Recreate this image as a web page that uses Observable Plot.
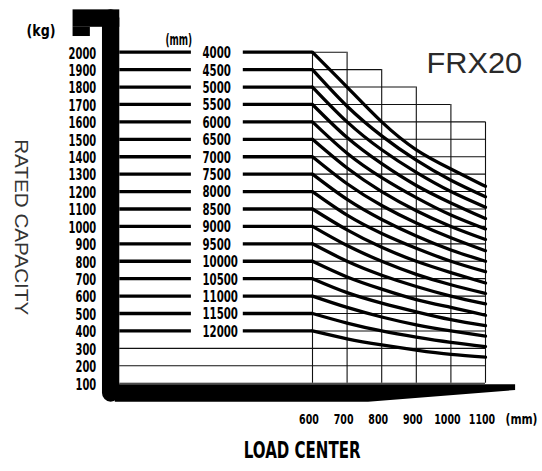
<!DOCTYPE html>
<html>
<head>
<meta charset="utf-8">
<script src="https://cdn.jsdelivr.net/npm/d3@7"></script>
<script src="https://cdn.jsdelivr.net/npm/@observablehq/plot@0.6"></script>
<style>
  html, body { margin: 0; padding: 0; background: #ffffff; }
  #chart { width: 542px; height: 471px; }
</style>
</head>
<body>
<div id="chart"></div>
<script>
// ---------- data ----------
const capacities = [2000, 1900, 1800, 1700, 1600, 1500, 1400, 1300, 1200, 1100, 1000, 900, 800, 700, 600, 500, 400];
const liftHeights = ["4000", "4500", "5000", "5500", "6000", "6500", "7000", "7500", "8000", "8500", "9000", "9500", "10000", "10500", "11000", "11500", "12000"];
const loadCenters = [600, 700, 800, 900, 1000, 1100];
const gridTops = [2000, 2000, 1900, 1800, 1700, 1600];
const yTicks = [2000, 1900, 1800, 1700, 1600, 1500, 1400, 1300, 1200, 1100, 1000, 900, 800, 700, 600, 500, 400, 300, 200, 100];
// capacity read at each load center (600..1100 mm), one row per lift height
const deratedValues = [
  [2000, 1800, 1600, 1440, 1330, 1230],
  [1900, 1690, 1520, 1380, 1265, 1170],
  [1800, 1600, 1440, 1310, 1200, 1110],
  [1700, 1510, 1360, 1235, 1135, 1045],
  [1600, 1420, 1280, 1165, 1065, 985],
  [1500, 1335, 1200, 1090, 1000, 925],
  [1400, 1245, 1120, 1020, 935, 860],
  [1300, 1155, 1040, 945, 865, 800],
  [1200, 1065, 960, 875, 800, 740],
  [1100, 980, 880, 800, 735, 675],
  [1000, 890, 800, 725, 665, 615],
  [900, 800, 720, 655, 600, 555],
  [800, 710, 640, 580, 535, 490],
  [700, 620, 560, 510, 465, 430],
  [600, 535, 480, 435, 400, 370],
  [500, 445, 400, 365, 335, 310],
  [400, 355, 320, 290, 265, 250]
];

// ---------- derived tables ----------
const curvePoints = [];
deratedValues.forEach((row, i) => row.forEach((v, j) => curvePoints.push({cap: capacities[i], x: loadCenters[j], kg: v})));
const rightEnd = kg => d3.max(loadCenters.filter((x, i) => gridTops[i] >= kg));
const hGrid = yTicks.map(kg => ({kg, x1: kg >= 400 ? 600 : 43, x2: rightEnd(kg)}));
const vGrid = loadCenters.map((x, i) => ({x, top: gridTops[i]}));

// frame (axis bars), in data units
const hook = [{x1: -92, x2: 43, y1: 2143, y2: 2243}, {x1: -92, x2: -42, y1: 2090, y2: 2143}];
const bar = [{x1: -7, x2: 43, y1: -9, y2: 2243}];
const base = [{x: 30, y1: -9, y2: 91}, {x: 762, y1: -9, y2: 91}, {x: 1187, y1: 58, y2: 91}];

const BOLD = "'Liberation Sans Narrow', 'DejaVu Sans Condensed', 'Arial Narrow', sans-serif";
const LW = 3.3;
const boldText = {fontFamily: BOLD, fontWeight: "bold", fill: "#000", textAnchor: "middle", lineAnchor: "middle"};

const svg = Plot.plot({
  width: 542,
  height: 471,
  margin: 0,
  style: {background: "#ffffff", overflow: "visible"},
  x: {domain: [600, 1100], range: [312, 485], axis: null},
  y: {domain: [100, 2000], range: [382.7, 51.7], axis: null},
  marks: [
    // thin grid
    Plot.ruleY(hGrid, {y: "kg", x1: "x1", x2: "x2", stroke: "#111", strokeWidth: 1.1}),
    Plot.ruleX(vGrid, {x: "x", y1: 100, y2: "top", stroke: "#111", strokeWidth: 1.1}),
    // thick load lines
    Plot.ruleY(capacities, {y: d => d, x1: 43, x2: 250, stroke: "#000", strokeWidth: LW}),
    Plot.ruleY(capacities, {y: d => d, x1: 400, x2: 600, stroke: "#000", strokeWidth: LW}),
    Plot.line(curvePoints, {x: "x", y: "kg", z: "cap", curve: "natural", stroke: "#000", strokeWidth: LW, strokeLinecap: "round"}),
    // frame
    Plot.rect(bar, {x1: "x1", x2: "x2", y1: "y1", y2: "y2", fill: "#000", rx: 9}),
    Plot.rect(hook, {x1: "x1", x2: "x2", y1: "y1", y2: "y2", fill: "#000"}),
    Plot.area(base, {x1: "x", y1: "y1", y2: "y2", fill: "#000"}),
    // labels
    Plot.text(yTicks, {...boldText, ariaDescription: "ylabels", fontSize: 16, y: d => d, text: d => String(d), frameAnchor: "left", dx: 95.7, dy: 1.2, textAnchor: "end"}),
    Plot.text(liftHeights, {...boldText, ariaDescription: "hlabels", fontSize: 16, y: (d, i) => capacities[i], x: 282, text: d => d, dy: 0.8, textAnchor: "start"}),
    Plot.text(loadCenters, {...boldText, ariaDescription: "xlabels", fontSize: 14.5, x: d => d, text: d => String(d), frameAnchor: "top", dy: 418.7, dx: -3.5}),
    Plot.text(["(kg)"], {...boldText, ariaDescription: "kg", fontSize: 16, frameAnchor: "top-left", dx: 40.5, dy: 30.5}),
    Plot.text(["(mm)"], {...boldText, ariaDescription: "mmtop", fontSize: 15, frameAnchor: "top-left", dx: 178.3, dy: 40}),
    Plot.text(["(mm)"], {...boldText, ariaDescription: "mmbottom", fontSize: 14, frameAnchor: "top-left", dx: 521, dy: 419}),
    Plot.text(["LOAD CENTER"], {...boldText, ariaDescription: "xtitle", fontSize: 23, frameAnchor: "top-left", dx: 301.7, dy: 450}),
    Plot.text(["RATED CAPACITY"], {ariaDescription: "ytitle", fontSize: 19, frameAnchor: "top-left", dx: 20.5, dy: 226.7, rotate: 90, textAnchor: "middle", lineAnchor: "middle", fontFamily: "'Liberation Sans', Arial, sans-serif", fill: "#333"}),
    Plot.text(["FRX20"], {ariaDescription: "model", fontSize: 30, frameAnchor: "top-left", dx: 473.8, dy: 62.5, textAnchor: "middle", lineAnchor: "middle", fontFamily: "'Liberation Sans', Arial, sans-serif", fill: "#2a2a2a"})
  ]
});

// fit text widths to the sizes measured on the reference
function fit(label, width) {
  svg.querySelectorAll(`g[aria-description="${label}"] text`).forEach(t => {
    t.setAttribute("textLength", typeof width === "function" ? width(t.textContent) : width);
    t.setAttribute("lengthAdjust", "spacingAndGlyphs");
  });
}
fit("ylabels", s => s.length * 6.9);
fit("hlabels", s => s.length * 7.1);
fit("xlabels", s => s.length * 6.6);
fit("kg", 29);
fit("mmtop", 26.7);
fit("mmbottom", 32);
fit("xtitle", 116.7);
fit("ytitle", 176);
fit("model", 95.7);

document.getElementById("chart").appendChild(svg);
</script>
</body>
</html>
